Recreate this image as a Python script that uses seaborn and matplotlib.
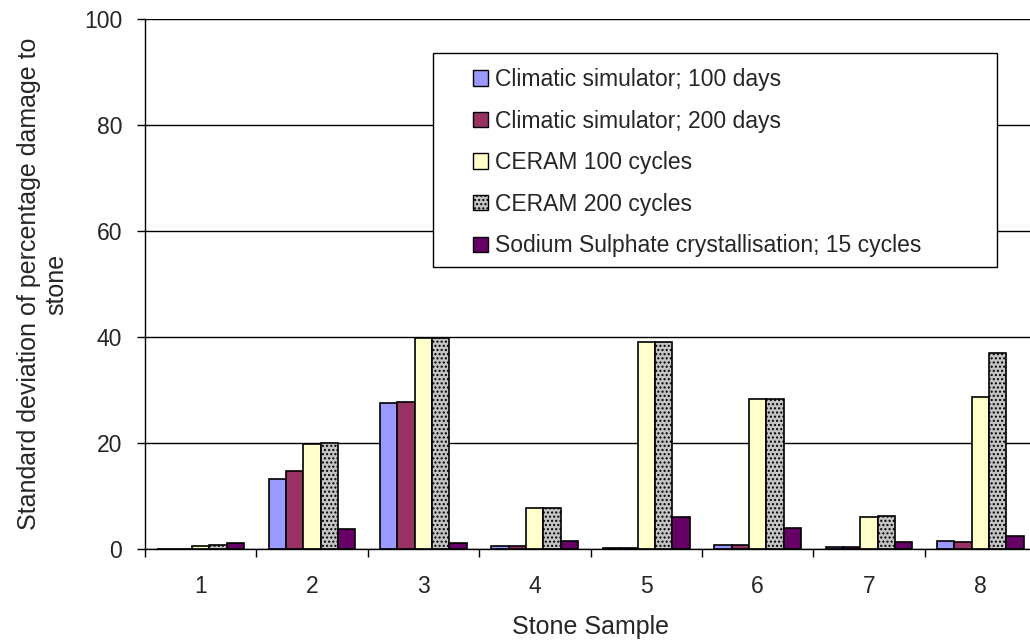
import numpy as np
import pandas as pd
import matplotlib
matplotlib.use("Agg")
import matplotlib.pyplot as plt
from matplotlib.patches import Patch, Rectangle
import seaborn as sns

# Data
samples = ["1", "2", "3", "4", "5", "6", "7", "8"]
series_names = [
    "Climatic simulator; 100 days",
    "Climatic simulator; 200 days",
    "CERAM 100 cycles",
    "CERAM 200 cycles",
    "Sodium Sulphate crystallisation; 15 cycles",
]
clim_100 = [0.0, 13.3, 27.5, 0.6, 0.1, 0.75, 0.45, 1.6]
clim_200 = [0.0, 14.8, 27.7, 0.6, 0.2, 0.75, 0.45, 1.3]
ceram_100 = [0.6, 19.9, 39.8, 7.7, 39.1, 28.3, 6.1, 28.6]
ceram_200 = [0.7, 20.0, 39.9, 7.7, 39.1, 28.3, 6.2, 37.0]
sodium_15 = [1.1, 3.8, 1.1, 1.6, 6.1, 4.0, 1.3, 2.5]

colors = ["#9999FF", "#993366", "#FFFFCC", "#C4C4C4", "#660066"]

rows = []
for name, vals in zip(series_names, [clim_100, clim_200, ceram_100, ceram_200, sodium_15]):
    for s, v in zip(samples, vals):
        rows.append({"sample": s, "series": name, "value": v})
df = pd.DataFrame(rows)

sns.set_style("white")
plt.rcParams["font.family"] = ["Liberation Sans", "DejaVu Sans"]
plt.rcParams["hatch.color"] = "#7a7a7a"
plt.rcParams["hatch.linewidth"] = 1.0

W, H = 1030, 643
fig = plt.figure(figsize=(W / 100, H / 100), dpi=100)
# plot area: x 145..1036 px (cropped at the right edge), y 19..549 px
ax = fig.add_axes([145 / W, (H - 549) / H, 891 / W, 530 / H])

sns.barplot(data=df, x="sample", y="value", hue="series", order=samples,
            hue_order=series_names, palette=colors, width=0.78, gap=0,
            edgecolor="black", linewidth=1.2, saturation=1, legend=False, ax=ax)

# textured look for CERAM 200 cycles
for bar in ax.containers[3]:
    bar.set_hatch("....")

ax.set_xlim(-0.5, 7.5)
ax.set_ylim(0, 100)
ax.set_yticks(range(0, 101, 20))
ax.yaxis.grid(True, color="black", linewidth=1)
ax.set_axisbelow(True)

# tick marks at category boundaries, labels at centres
ax.set_xticks(np.arange(-0.5, 8, 1))
ax.set_xticklabels([""] * 9)
ax.set_xticks(np.arange(8), minor=True)
ax.set_xticklabels(samples, minor=True)
ax.tick_params(axis="x", which="major", direction="out", length=6, width=1, color="black", bottom=True)
ax.tick_params(axis="x", which="minor", length=0, labelsize=16.5, pad=19)
ax.tick_params(axis="y", direction="out", length=6, width=1, color="black", left=True,
               labelsize=16.5, pad=10.5)

for side in ["top", "right"]:
    ax.spines[side].set_visible(False)
for side in ["left", "bottom"]:
    ax.spines[side].set_color("black")
    ax.spines[side].set_linewidth(1)

ax.set_xlabel("Stone Sample", fontsize=18, labelpad=12)
ax.set_ylabel("Standard deviation of percentage damage to\nstone", fontsize=18, labelpad=11)

# legend box drawn separately so the padding matches
fig.patches.append(Rectangle((433 / W, (H - 267) / H), 564 / W, 214 / H, transform=fig.transFigure,
                             facecolor="white", edgecolor="black", linewidth=1, zorder=3))
handles = [Patch(facecolor=c, edgecolor="black", linewidth=1, hatch=("...." if i == 3 else None))
           for i, c in enumerate(colors)]
leg = fig.legend(handles, series_names, loc="upper left", bbox_to_anchor=(473 / W, (H - 68) / H),
                 fontsize=16.5, frameon=False, handlelength=0.65, handleheight=0.65,
                 handletextpad=0.3, labelspacing=0.81, borderpad=0, borderaxespad=0)
leg.set_zorder(4)

fig.savefig("out.png", dpi=100)
